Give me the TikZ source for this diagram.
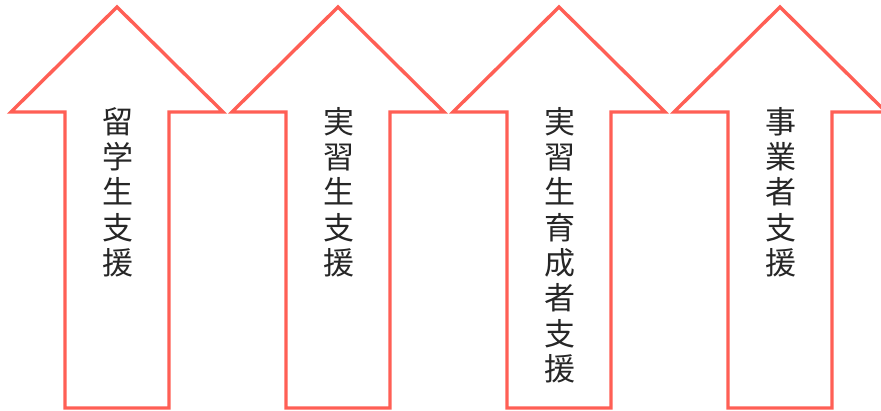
\documentclass[tikz,border=0pt]{standalone}
\usepackage{fontspec}
\newfontfamily\jpfont{Noto Sans CJK JP}
\definecolor{arrowred}{RGB}{255,95,85}
\tikzset{
  uparrow/.style={draw=arrowred, line width=3.4pt, line join=miter, fill=white},
  vlabel/.style={font=\jpfont\fontsize{31}{35.3}\selectfont, align=center, anchor=north, inner sep=0pt, text=black!85}
}
\newcommand{\myarrow}[1]{%
  \draw[uparrow] (#1,404) -- (#1-106,299) -- (#1-52,299) -- (#1-52,3) -- (#1+52,3) -- (#1+52,299) -- (#1+106,299) -- cycle;}
\begin{document}
\begin{tikzpicture}[x=1pt,y=1pt]
\useasboundingbox (0,0) rectangle (881,411);
\myarrow{117}
\myarrow{338}
\myarrow{559}
\myarrow{780}
\node[vlabel] (t1) at (118,304) {留\\学\\生\\支\\援};
\node[vlabel] (t2) at (339,304) {実\\習\\生\\支\\援};
\node[vlabel] (t3) at (560,304) {実\\習\\生\\育\\成\\者\\支\\援};
\node[vlabel] (t4) at (781,304) {事\\業\\者\\支\\援};
\end{tikzpicture}
\end{document}
